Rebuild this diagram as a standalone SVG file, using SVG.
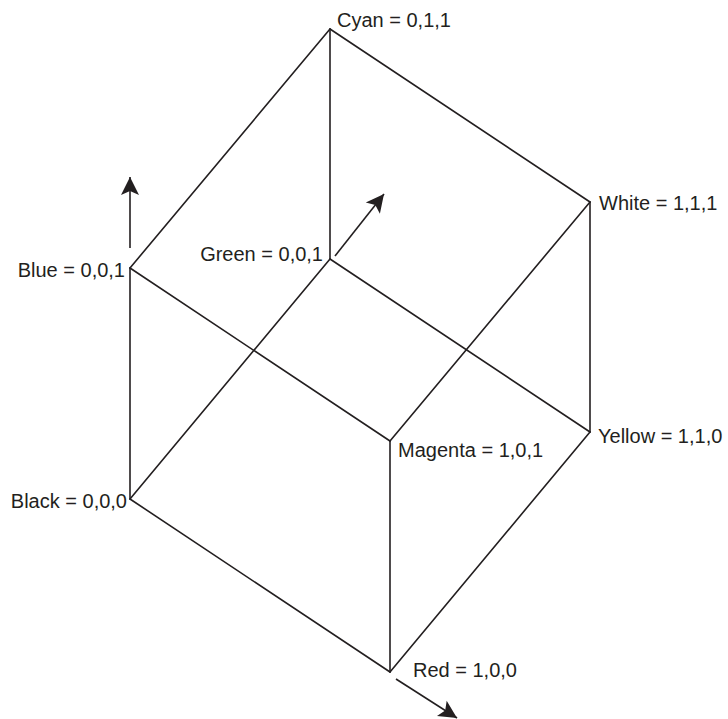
<svg xmlns="http://www.w3.org/2000/svg" width="728" height="719" viewBox="0 0 728 719">
  <style>
    .edge { stroke: #231f20; stroke-width: 1.6; fill: none; stroke-linecap: round; }
    .axis { stroke: #231f20; stroke-width: 1.6; fill: none; marker-end: url(#head); }
    .label { font-family: "Liberation Sans", Arial, sans-serif; font-size: 20px; fill: #231f20; }
  </style>
  <defs>
    <marker id="head" markerUnits="userSpaceOnUse" markerWidth="22" markerHeight="22" viewBox="-20 -11 22 22" refX="0" refY="0" orient="auto">
      <path d="M0,0 L-18,-9 L-14,0 L-18,9 Z" fill="#231f20"/>
    </marker>
  </defs>
  <rect width="728" height="719" fill="#ffffff"/>

  <!-- cube edges -->
  <g id="connectors">
    <!-- bottom face -->
    <line class="edge" x1="130" y1="499" x2="390" y2="672"/>
    <line class="edge" x1="390" y1="672" x2="590" y2="432"/>
    <line class="edge" x1="590" y1="432" x2="330" y2="259"/>
    <line class="edge" x1="330" y1="259" x2="130" y2="499"/>
    <!-- top face -->
    <line class="edge" x1="130" y1="268" x2="390" y2="441"/>
    <line class="edge" x1="390" y1="441" x2="590" y2="202"/>
    <line class="edge" x1="590" y1="202" x2="330" y2="29"/>
    <line class="edge" x1="330" y1="29" x2="130" y2="268"/>
    <!-- verticals -->
    <line class="edge" x1="130" y1="499" x2="130" y2="268"/>
    <line class="edge" x1="390" y1="672" x2="390" y2="441"/>
    <line class="edge" x1="590" y1="432" x2="590" y2="202"/>
    <line class="edge" x1="330" y1="259" x2="330" y2="29"/>
    <!-- axis arrows -->
    <line class="axis" x1="130" y1="248" x2="130" y2="177"/>
    <line class="axis" x1="335" y1="256" x2="384" y2="194"/>
    <line class="axis" x1="396" y1="679" x2="457" y2="718"/>
  </g>

  <g id="black"><text class="label" x="127" y="508" text-anchor="end">Black = 0,0,0</text></g>
  <g id="blue"><text class="label" x="125" y="277" text-anchor="end">Blue = 0,0,1</text></g>
  <g id="green"><text class="label" x="323" y="261" text-anchor="end">Green = 0,0,1</text></g>
  <g id="cyan"><text class="label" x="337" y="27">Cyan = 0,1,1</text></g>
  <g id="white"><text class="label" x="599" y="210">White = 1,1,1</text></g>
  <g id="yellow"><text class="label" x="598" y="443">Yellow = 1,1,0</text></g>
  <g id="magenta"><text class="label" x="398" y="457">Magenta = 1,0,1</text></g>
  <g id="red"><text class="label" x="413" y="677">Red = 1,0,0</text></g>
</svg>
